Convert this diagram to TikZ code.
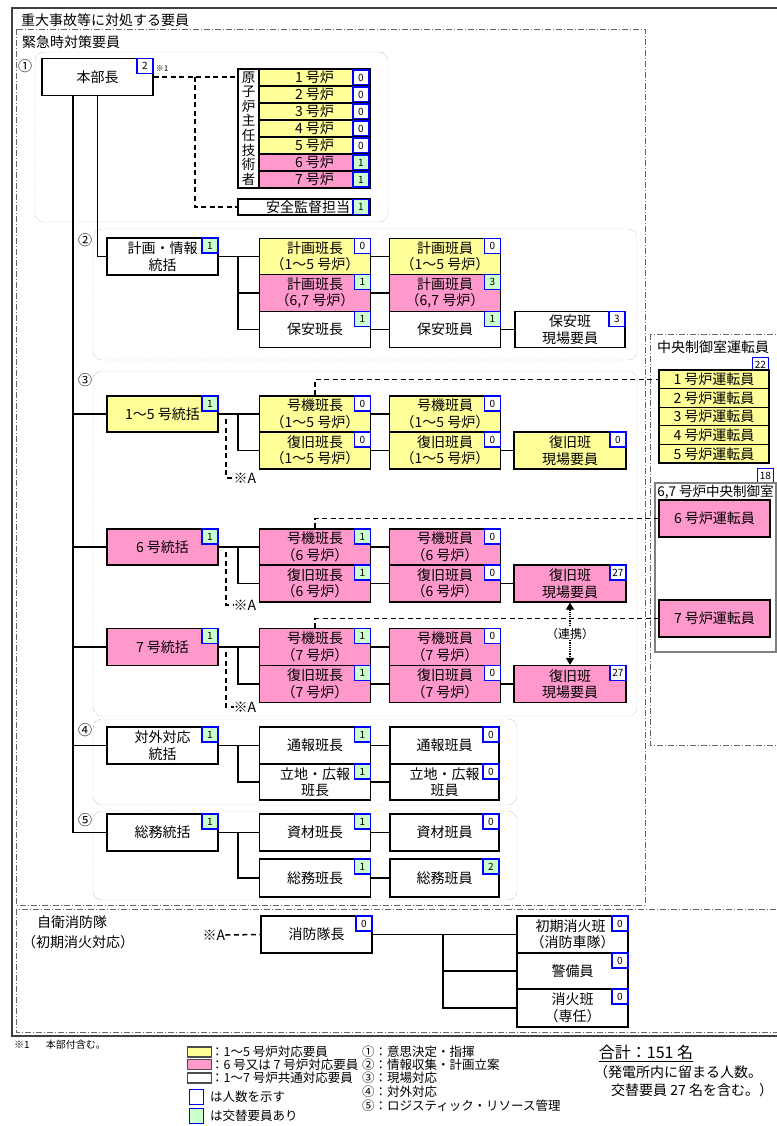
\documentclass[tikz,border=0pt]{standalone}
\usepackage{fontspec}
\setmainfont{Noto Sans CJK JP}
\usetikzlibrary{arrows.meta, calc}

\definecolor{yel}{RGB}{255,255,153}
\definecolor{pnk}{RGB}{255,153,204}
\definecolor{grn}{RGB}{204,255,204}

\begin{document}
\begin{tikzpicture}[x=1pt, y=-1pt,
        unit/.style={draw, line width=1.2pt, minimum width=111pt, minimum height=37pt, inner sep=1pt, align=center, font=\fontsize{14}{16.5}\selectfont},
        cell/.style={unit, minimum height=17pt, inner sep=0pt},
        cnt/.style={draw=blue, line width=1.3pt, fill=white, minimum width=16pt, minimum height=15pt, inner sep=0pt, anchor=north east, font=\fontsize{10}{10}\selectfont},
        link/.style={line width=1.2pt},
        dlink/.style={line width=1.5pt, dash pattern=on 5pt off 3.5pt},
        grp/.style={draw=gray, densely dotted, rounded corners=9pt},
        zone/.style={draw=gray!80!black, line width=0.9pt, dash pattern=on 6pt off 2pt on 1pt off 2pt},
        txt/.style={inner sep=0pt, font=\fontsize{14}{16}\selectfont},
        key/.style={inner sep=0pt, anchor=west, font=\fontsize{12.5}{14}\selectfont}
    ]

        \useasboundingbox (0,0) rectangle (776,1126);

        % Define coordinates for the trunk and the forks
        \coordinate (trunk) at (73,0);
        \coordinate (f1) at (238,0);
        \coordinate (f0) at (443,0);
        \coordinate (ax) at (226,0);
        \coordinate (sp) at (195,77);

        % Draw the frames and zones
        \draw[line width=1.5pt, black!75] (12,8) rectangle (790,1036);
        \node[txt, anchor=west] (ttl) at (21,20) {重大事故等に対処する要員};
        \draw[zone] (16,29) rectangle (645,905);
        \node[txt, anchor=west] (kq) at (22,42) {緊急時対策要員};
        \draw[zone] (16,909) rectangle (790,1032);
        \draw[zone] (650,334) rectangle (790,745);

        % Draw the groups
        \draw[grp] (35,52) rectangle (388,222);
        \draw[grp] (93,229) rectangle (637,360);
        \draw[grp] (93,371) rectangle (637,716);
        \draw[grp] (93,719) rectangle (517,805);
        \draw[grp] (93,811) rectangle (517,900);
        \node[txt] (m1) at (25,66) {①};
        \node[txt] (m2) at (85,240) {②};
        \node[txt] (m3) at (85,380) {③};
        \node[txt] (m4) at (85,730) {④};
        \node[txt] (m5) at (85,820) {⑤};

        % Group 1: head of the headquarters
        \node[unit] (hb) at (97.5,77) {本部長};
        \node[cnt] (hb-n) at (hb.north east) {2};
        \node[inner sep=0pt, font=\fontsize{8}{8}\selectfont] (hb-m) at (162,69) {※1};
        \node[draw, line width=1.2pt, minimum width=21pt, minimum height=119pt, inner sep=0pt, align=center, font=\fontsize{13.5}{14.6}\selectfont] (gsk) at (248.5,128.5) {原\\子\\炉\\主\\任\\技\\術\\者};
        \foreach \i/\col/\cv/\cf in {1/yel/0/white, 2/yel/0/white, 3/yel/0/white, 4/yel/0/white, 5/yel/0/white, 6/pnk/1/grn, 7/pnk/1/grn} {
            \node[cell, fill=\col] (r\i) at (314.5,{60.5+17*\i}) {{\i} 号炉};
            \node[cnt, fill=\cf, anchor=east] (r\i-n) at ($(r\i.east)+(-1,0)$) {\cv};
        }
        \node[unit, minimum width=132pt, minimum height=16pt, inner sep=0pt] (ak) at (304,207) {\hspace{8pt}安全監督担当};
        \node[cnt, fill=grn, anchor=east] (ak-n) at ($(ak.east)+(-1,0)$) {1};
        \draw[dlink] (hb.east) -- (hb.east -| gsk.west);
        \draw[dlink] (sp) |- (ak.west);

        % Group 2: planning
        \node[unit] (kj) at (162.5,256.5) {計画・情報\\統括};
        \node[cnt, fill=grn] (kj-n) at (kj.north east) {1};
        \node[unit, fill=yel, minimum height=36.5pt] (kh15) at (315,256.5) {計画班長\\（1～5 号炉）};
        \node[cnt] (kh15-n) at (kh15.north east) {0};
        \node[unit, fill=pnk, minimum height=36.5pt] (kh67) at (315,293) {計画班長\\（6,7 号炉）};
        \node[cnt, fill=grn] (kh67-n) at (kh67.north east) {1};
        \node[unit, minimum height=36.5pt] (hah) at (315,329.5) {保安班長};
        \node[cnt, fill=grn] (hah-n) at (hah.north east) {1};
        \node[unit, fill=yel, minimum height=36.5pt] (ki15) at (445,256.5) {計画班員\\（1～5 号炉）};
        \node[cnt] (ki15-n) at (ki15.north east) {0};
        \node[unit, fill=pnk, minimum height=36.5pt] (ki67) at (445,293) {計画班員\\（6,7 号炉）};
        \node[cnt, fill=grn] (ki67-n) at (ki67.north east) {3};
        \node[unit, minimum height=36.5pt] (hai) at (445,329.5) {保安班員};
        \node[cnt, fill=grn] (hai-n) at (hai.north east) {1};
        \node[unit, minimum width=110pt, minimum height=36.5pt] (hag) at (570,329.5) {保安班\\現場要員};
        \node[cnt] (hag-n) at (hag.north east) {3};
        \draw[link] (hb.south) |- (kj.west);
        \draw[link] (kj.east) -- (kh15.west);
        \draw[link] (f1 |- kj.east) |- (hah.west);
        \draw[link] (f1 |- kh67.west) -- (kh67.west);
        \draw[link] (kh15.east) -- (ki15.west);
        \draw[link] (kh67.east) -- (ki67.west);
        \draw[link] (hah.east) -- (hai.west);
        \draw[link] (hai.east) -- (hag.west);

        % Central control room operators
        \node[txt] (cc) at (713,347) {中央制御室運転員};
        \node[cnt] (cc-n) at (769,357) {22};
        \foreach \i in {1,...,5} {
            \node[cell, fill=yel, minimum width=110pt, minimum height=18.6pt] (u\i) at (714,{360.7+18.6*\i}) {{\i} 号炉運転員};
        }
        \node[cnt] (cr-n) at (774,468) {18};
        \node[draw=gray, line width=1.2pt, minimum width=121pt, minimum height=169pt, inner sep=0pt] (cr) at (715.5,567.5) {};
        \node[txt, font=\fontsize{13.5}{14}\selectfont] (cr-l) at (715.5,492) {6,7 号炉中央制御室};
        \node[unit, fill=pnk] (u6) at (714.5,518.5) {6 号炉運転員};
        \node[unit, fill=pnk] (u7) at (714.5,618.5) {7 号炉運転員};

        % Group 3: units 1-5
        \node[unit, fill=yel, minimum height=36pt] (g15) at (162.5,414) {1～5 号統括};
        \node[cnt, fill=grn] (g15-n) at (g15.north east) {1};
        \node[unit, fill=yel, minimum height=36pt] (kc15) at (315,414) {号機班長\\（1～5 号炉）};
        \node[cnt] (kc15-n) at (kc15.north east) {0};
        \node[unit, fill=yel] (fc15) at (315,450.5) {復旧班長\\（1～5 号炉）};
        \node[cnt] (fc15-n) at (fc15.north east) {0};
        \node[unit, fill=yel, minimum height=36pt] (kci15) at (445,414) {号機班員\\（1～5 号炉）};
        \node[cnt] (kci15-n) at (kci15.north east) {0};
        \node[unit, fill=yel] (fci15) at (445,450.5) {復旧班員\\（1～5 号炉）};
        \node[cnt] (fci15-n) at (fci15.north east) {0};
        \node[unit, fill=yel, minimum width=112pt] (fg15) at (570,450.5) {復旧班\\現場要員};
        \node[cnt] (fg15-n) at (fg15.north east) {0};
        \node[txt] (sa15) at (245,478) {※A};

        % Group 3: unit 6
        \node[unit, fill=pnk, minimum height=36pt] (g6) at (162.5,547) {6 号統括};
        \node[cnt, fill=grn] (g6-n) at (g6.north east) {1};
        \node[unit, fill=pnk, minimum height=36pt] (kc6) at (315,547) {号機班長\\（6 号炉）};
        \node[cnt, fill=grn] (kc6-n) at (kc6.north east) {1};
        \node[unit, fill=pnk] (fc6) at (315,583.5) {復旧班長\\（6 号炉）};
        \node[cnt, fill=grn] (fc6-n) at (fc6.north east) {1};
        \node[unit, fill=pnk, minimum height=36pt] (kci6) at (445,547) {号機班員\\（6 号炉）};
        \node[cnt] (kci6-n) at (kci6.north east) {0};
        \node[unit, fill=pnk] (fci6) at (445,583.5) {復旧班員\\（6 号炉）};
        \node[cnt] (fci6-n) at (fci6.north east) {0};
        \node[unit, fill=pnk, minimum width=112pt] (fg6) at (570,583.5) {復旧班\\現場要員};
        \node[cnt] (fg6-n) at (fg6.north east) {27};
        \node[txt] (sa6) at (245,605) {※A};

        % Group 3: unit 7
        \node[unit, fill=pnk] (g7) at (162.5,647) {7 号統括};
        \node[cnt, fill=grn] (g7-n) at (g7.north east) {1};
        \node[unit, fill=pnk] (kc7) at (315,647) {号機班長\\（7 号炉）};
        \node[cnt, fill=grn] (kc7-n) at (kc7.north east) {1};
        \node[unit, fill=pnk] (fc7) at (315,684) {復旧班長\\（7 号炉）};
        \node[cnt, fill=grn] (fc7-n) at (fc7.north east) {1};
        \node[unit, fill=pnk] (kci7) at (445,647) {号機班員\\（7 号炉）};
        \node[cnt] (kci7-n) at (kci7.north east) {0};
        \node[unit, fill=pnk] (fci7) at (445,684) {復旧班員\\（7 号炉）};
        \node[cnt] (fci7-n) at (fci7.north east) {0};
        \node[unit, fill=pnk, minimum width=112pt] (fg7) at (570,684) {復旧班\\現場要員};
        \node[cnt] (fg7-n) at (fg7.north east) {27};
        \node[txt] (sa7) at (245,707) {※A};

        % Connect group 3
        \foreach \gn/\kn/\fn/\kin/\fin/\fgn/\san in {g15/kc15/fc15/kci15/fci15/fg15/sa15, g6/kc6/fc6/kci6/fci6/fg6/sa6, g7/kc7/fc7/kci7/fci7/fg7/sa7} {
            \draw[link] (trunk |- \gn.west) -- (\gn.west);
            \draw[link] (\gn.east) -- (\kn.west);
            \draw[link] (f1 |- \gn.east) |- (\fn.west);
            \draw[link] (\kn.east) -- (\kin.west);
            \draw[link] (\fn.east) -- (\fin.west);
            \draw[link] (\fin.east) -- (\fgn.west);
            \draw[dlink] ($(ax |- \gn.east)+(0,5)$) |- (\san.west);
        }
        \draw[dlink] (kc15.north) |- (u1.west);
        \draw[dlink] (kc6.north) |- (u6.west);
        \draw[dlink] (kc7.north) |- (u7.west);
        \draw[line width=1.2pt, densely dotted, {Triangle[width=8pt,length=7pt]}-{Triangle[width=8pt,length=7pt]}] (fg6.south) -- (fg7.north)
            node[midway, fill=white, inner sep=1pt, font=\fontsize{12}{12}\selectfont] (rk) {（連携）};

        % Group 4: external response
        \node[unit] (tg) at (162.5,745.5) {対外対応\\統括};
        \node[cnt, fill=grn] (tg-n) at (tg.north east) {1};
        \node[unit] (th) at (315,745.5) {通報班長};
        \node[cnt, fill=grn] (th-n) at (th.north east) {1};
        \node[unit, minimum height=36pt] (rh) at (315,782) {立地・広報\\班長};
        \node[cnt, fill=grn] (rh-n) at (rh.north east) {1};
        \node[unit, minimum width=109pt] (ti) at (444.5,745.5) {通報班員};
        \node[cnt] (ti-n) at (ti.north east) {0};
        \node[unit, minimum width=109pt, minimum height=36pt] (ri) at (444.5,782) {立地・広報\\班員};
        \node[cnt] (ri-n) at (ri.north east) {0};
        \draw[link] (trunk |- tg.west) -- (tg.west);
        \draw[link] (tg.east) -- (th.west);
        \draw[link] (f1 |- tg.east) |- (rh.west);
        \draw[link] (th.east) -- (ti.west);
        \draw[link] (rh.east) -- (ri.west);

        % Group 5: general affairs
        \node[unit] (sm) at (162.5,832.5) {総務統括};
        \node[cnt, fill=grn] (sm-n) at (sm.north east) {1};
        \node[unit] (sh) at (315,832.5) {資材班長};
        \node[cnt, fill=grn] (sh-n) at (sh.north east) {1};
        \node[unit, minimum height=38pt] (gh) at (315,878) {総務班長};
        \node[cnt, fill=grn] (gh-n) at (gh.north east) {1};
        \node[unit, minimum width=109pt] (si) at (444.5,832.5) {資材班員};
        \node[cnt] (si-n) at (si.north east) {0};
        \node[unit, minimum width=109pt, minimum height=38pt] (gi) at (444.5,878) {総務班員};
        \node[cnt, fill=grn] (gi-n) at (gi.north east) {2};
        \draw[link] (hb.south -| trunk) |- (sm.west);
        \draw[link] (sm.east) -- (sh.west);
        \draw[link] (f1 |- sm.east) |- (gh.west);
        \draw[link] (sh.east) -- (si.west);
        \draw[link] (gh.east) -- (gi.west);

        % Fire brigade
        \node[txt, anchor=west] (jb) at (37,922) {自衛消防隊};
        \node[txt, anchor=west] (jb2) at (22,942) {（初期消火対応）};
        \node[txt] (sa0) at (214,935) {※A};
        \node[unit] (sbc) at (316.5,934.5) {消防隊長};
        \node[cnt] (sbc-n) at (sbc.north east) {0};
        \node[unit] (sk) at (572.5,934.5) {\hspace{-4pt}初期消火班\\（消防車隊）};
        \node[cnt] (sk-n) at (sk.north east) {0};
        \node[unit, minimum height=36pt] (kb) at (572.5,971) {警備員};
        \node[cnt] (kb-n) at (kb.north east) {0};
        \node[unit, minimum height=38pt] (ss) at (572.5,1008) {消火班\\（専任）};
        \node[cnt] (ss-n) at (ss.north east) {0};
        \draw[dlink] (sa0.east) -- (sbc.west);
        \draw[link] (sbc.east) -- (sk.west);
        \draw[link] (f0 |- sbc.east) |- (ss.west);
        \draw[link] (f0 |- kb.west) -- (kb.west);

        % Legend
        \node[inner sep=0pt, anchor=west, font=\fontsize{10}{10}\selectfont] (nt) at (14,1045) {※1\hspace{1.6em}本部付含む。};
        \node[draw=gray!60!black, line width=1.6pt, fill=yel, minimum width=24pt, minimum height=10pt, inner sep=0pt] (sw1) at (199.5,1052) {};
        \node[draw=gray!60!black, line width=1.6pt, fill=pnk, minimum width=24pt, minimum height=10pt, inner sep=0pt] (sw2) at (199.5,1064.5) {};
        \node[draw=gray!60!black, line width=1.6pt, fill=white, minimum width=24pt, minimum height=10pt, inner sep=0pt] (sw3) at (199.5,1078) {};
        \node[cnt, anchor=center, minimum width=14pt, minimum height=15pt] (sq1) at (196.5,1097) {};
        \node[cnt, anchor=center, fill=grn, minimum width=14pt, minimum height=15pt] (sq2) at (196.5,1116) {};
        \node[key] (lg1) at (211,1052) {：1～5 号炉対応要員};
        \node[key] (lg2) at (211,1065) {：6 号又は 7 号炉対応要員};
        \node[key] (lg3) at (211,1078) {：1～7 号炉共通対応要員};
        \node[key] (lg4) at (210,1097) {は人数を示す};
        \node[key] (lg5) at (210,1116) {は交替要員あり};
        \node[key] (ls1) at (362,1052) {①：意思決定・指揮};
        \node[key] (ls2) at (362,1065) {②：情報収集・計画立案};
        \node[key] (ls3) at (362,1078) {③：現場対応};
        \node[key] (ls4) at (362,1092) {④：対外対応};
        \node[key] (ls5) at (362,1106) {⑤：ロジスティック・リソース管理};
        \node[inner sep=1pt, font=\fontsize{16}{16}\selectfont] (tot) at (646,1053) {\underline{合計：151 名}};
        \node[key, font=\fontsize{14}{14}\selectfont] (tot2) at (594,1072) {（発電所内に留まる人数。};
        \node[key, font=\fontsize{14}{14}\selectfont] (tot3) at (611,1090) {交替要員 27 名を含む。）};

    \end{tikzpicture}
\end{document}
